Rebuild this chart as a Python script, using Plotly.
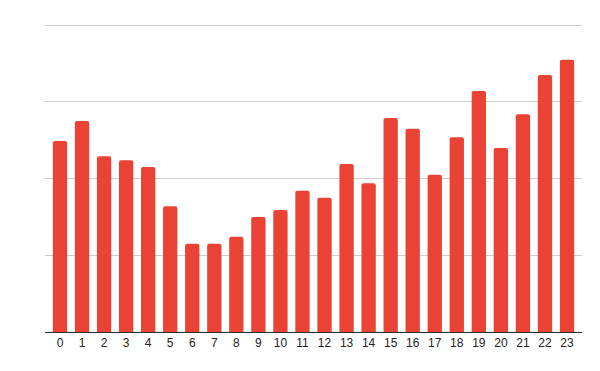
import plotly.graph_objects as go

hours = [str(h) for h in range(24)]
values = [24.9, 27.5, 22.9, 22.4, 21.5, 16.4, 11.5, 11.5, 12.4, 15.0, 15.9, 18.4,
          17.5, 21.9, 19.4, 27.9, 26.5, 20.5, 25.4, 31.4, 24.0, 28.4, 33.5, 35.5]
grid_vals = [0, 10, 20, 30, 40]

fig = go.Figure(go.Bar(
    x=hours, y=values,
    marker=dict(color="#EA4335", line=dict(width=0), cornerradius=2),
    hoverinfo="x+y",
))

fig.update_layout(
    width=600, height=371,
    margin=dict(l=45, r=18, t=19, b=39),
    paper_bgcolor="white", plot_bgcolor="white",
    bargap=0.35,
    showlegend=False,
    font=dict(family="Arial, Liberation Sans, sans-serif", size=12, color="#222222"),
    xaxis=dict(type="category", showgrid=False, showline=True, linecolor="#333333",
               linewidth=1, ticks="", range=[-0.68, 23.68],
               tickfont=dict(size=12, color="#222222")),
    yaxis=dict(range=[0, 40.8], tickvals=grid_vals, showticklabels=False,
               showgrid=True, gridcolor="#cccccc", gridwidth=1, zeroline=False,
               showline=False, fixedrange=True),
)

fig.write_html("out.html", config={"displayModeBar": False},
               post_script="document.body.style.margin='0';document.body.style.overflow='hidden';")
